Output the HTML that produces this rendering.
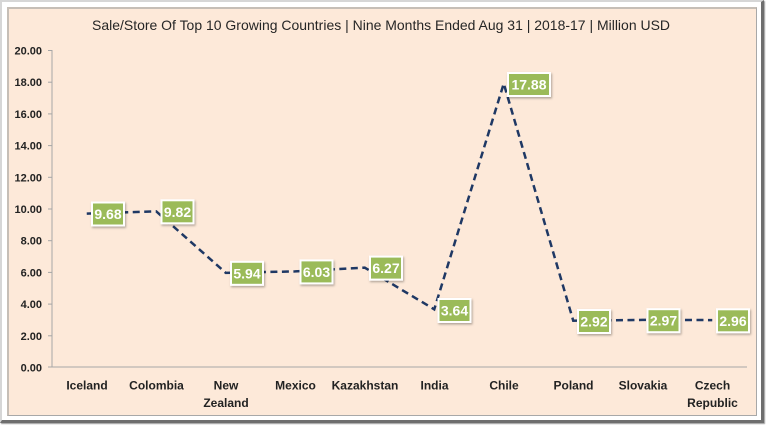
<!DOCTYPE html>
<html>
<head>
<meta charset="utf-8">
<style>
  html,body{margin:0;padding:0;background:#fff;}
  body{width:768px;height:428px;overflow:hidden;position:relative;}
  .outer{position:absolute;left:0;top:0;width:759px;height:418px;border-top:2px solid #d6d6d6;border-left:2px solid #d6d6d6;border-right:3px solid #6e6e6e;border-bottom:3px solid #6e6e6e;box-shadow:1px 1px 1px #9a9a9a;background:#fff;}
  .inner{position:absolute;left:7px;top:7px;width:747px;height:406px;background:#fde9d9;border-top:2px solid #c6beb6;border-left:2px solid #c6beb6;border-right:1px solid #a8a8a8;border-bottom:1px solid #a8a8a8;}
  svg{position:absolute;left:0;top:0;}
  text{font-family:"Liberation Sans",sans-serif;}
</style>
</head>
<body>
<div class="outer"></div>
<div class="inner"></div>
<svg width="768" height="428" viewBox="0 0 768 428" xmlns="http://www.w3.org/2000/svg">
  <defs>
    <filter id="sh" x="-20%" y="-20%" width="150%" height="160%">
      <feDropShadow dx="1" dy="1.5" stdDeviation="1" flood-color="#000" flood-opacity="0.3"/>
    </filter>
  </defs>
  <!-- Title -->
  <text x="381" y="30" font-size="14" fill="#262626" text-anchor="middle" textLength="578" lengthAdjust="spacingAndGlyphs">Sale/Store Of Top 10 Growing Countries | Nine Months Ended Aug 31 | 2018-17 | Million USD</text>

  <!-- Axes -->
  <line x1="52" y1="50" x2="52" y2="367" stroke="#a6a6a6" stroke-width="1"/>
  <line x1="48" y1="367" x2="747" y2="367" stroke="#a6a6a6" stroke-width="1"/>
  <g stroke="#a6a6a6" stroke-width="1">
    <line x1="48" y1="50.5" x2="52" y2="50.5"/>
    <line x1="48" y1="82.2" x2="52" y2="82.2"/>
    <line x1="48" y1="113.9" x2="52" y2="113.9"/>
    <line x1="48" y1="145.6" x2="52" y2="145.6"/>
    <line x1="48" y1="177.3" x2="52" y2="177.3"/>
    <line x1="48" y1="209" x2="52" y2="209"/>
    <line x1="48" y1="240.7" x2="52" y2="240.7"/>
    <line x1="48" y1="272.4" x2="52" y2="272.4"/>
    <line x1="48" y1="304.1" x2="52" y2="304.1"/>
    <line x1="48" y1="335.8" x2="52" y2="335.8"/>
  </g>
  <g font-size="11" font-weight="bold" fill="#222" text-anchor="end">
    <text x="42" y="54.5">20.00</text>
    <text x="42" y="86.2">18.00</text>
    <text x="42" y="117.9">16.00</text>
    <text x="42" y="149.6">14.00</text>
    <text x="42" y="181.3">12.00</text>
    <text x="42" y="213">10.00</text>
    <text x="42" y="244.7">8.00</text>
    <text x="42" y="276.4">6.00</text>
    <text x="42" y="308.1">4.00</text>
    <text x="42" y="339.8">2.00</text>
    <text x="42" y="371.5">0.00</text>
  </g>

  <!-- X labels -->
  <g font-size="12" font-weight="bold" fill="#222" text-anchor="middle">
    <text x="87" y="389.5">Iceland</text>
    <text x="156.5" y="389.5">Colombia</text>
    <text x="226" y="389.5">New</text>
    <text x="226" y="407">Zealand</text>
    <text x="295.5" y="389.5">Mexico</text>
    <text x="365" y="389.5">Kazakhstan</text>
    <text x="434.5" y="389.5">India</text>
    <text x="504" y="389.5">Chile</text>
    <text x="573.5" y="389.5">Poland</text>
    <text x="643" y="389.5">Slovakia</text>
    <text x="712.5" y="389.5">Czech</text>
    <text x="712.5" y="407">Republic</text>
  </g>

  <!-- Series line -->
  <polyline fill="none" stroke="#1f3864" stroke-width="2.5" stroke-dasharray="7,4.5"
    points="86.75,213.57 156.25,211.35 225.75,272.85 295.25,271.42 364.75,267.62 434.25,309.31 503.75,83.6 573.25,320.72 642.75,319.93 712.25,320.08"/>

  <!-- Data labels -->
  <g font-size="14" font-weight="bold" fill="#fff" text-anchor="middle">
    <g><rect x="91" y="201.5" width="34" height="25" fill="#fff" filter="url(#sh)"/><rect x="93" y="203.5" width="30" height="21" fill="#9bbb59"/><text x="108" y="219">9.68</text></g>
    <g><rect x="160.5" y="199.3" width="34" height="25" fill="#fff" filter="url(#sh)"/><rect x="162.5" y="201.3" width="30" height="21" fill="#9bbb59"/><text x="177.5" y="216.8">9.82</text></g>
    <g><rect x="230" y="260.8" width="34" height="25" fill="#fff" filter="url(#sh)"/><rect x="232" y="262.8" width="30" height="21" fill="#9bbb59"/><text x="247" y="278.3">5.94</text></g>
    <g><rect x="299.5" y="259.4" width="34" height="25" fill="#fff" filter="url(#sh)"/><rect x="301.5" y="261.4" width="30" height="21" fill="#9bbb59"/><text x="316.5" y="276.9">6.03</text></g>
    <g><rect x="369" y="255.6" width="34" height="25" fill="#fff" filter="url(#sh)"/><rect x="371" y="257.6" width="30" height="21" fill="#9bbb59"/><text x="386" y="273.1">6.27</text></g>
    <g><rect x="437.5" y="298" width="34" height="25" fill="#fff" filter="url(#sh)"/><rect x="439.5" y="300" width="30" height="21" fill="#9bbb59"/><text x="454.5" y="315.5">3.64</text></g>
    <g><rect x="507" y="72" width="44" height="25" fill="#fff" filter="url(#sh)"/><rect x="509" y="74" width="40" height="21" fill="#9bbb59"/><text x="529" y="89.5">17.88</text></g>
    <g><rect x="577" y="309" width="34" height="25" fill="#fff" filter="url(#sh)"/><rect x="579" y="311" width="30" height="21" fill="#9bbb59"/><text x="594" y="326.5">2.92</text></g>
    <g><rect x="646.5" y="308.2" width="34" height="25" fill="#fff" filter="url(#sh)"/><rect x="648.5" y="310.2" width="30" height="21" fill="#9bbb59"/><text x="663.5" y="325.7">2.97</text></g>
    <g><rect x="716" y="308.3" width="34" height="25" fill="#fff" filter="url(#sh)"/><rect x="718" y="310.3" width="30" height="21" fill="#9bbb59"/><text x="733" y="325.8">2.96</text></g>
  </g>
</svg>
</body>
</html>
